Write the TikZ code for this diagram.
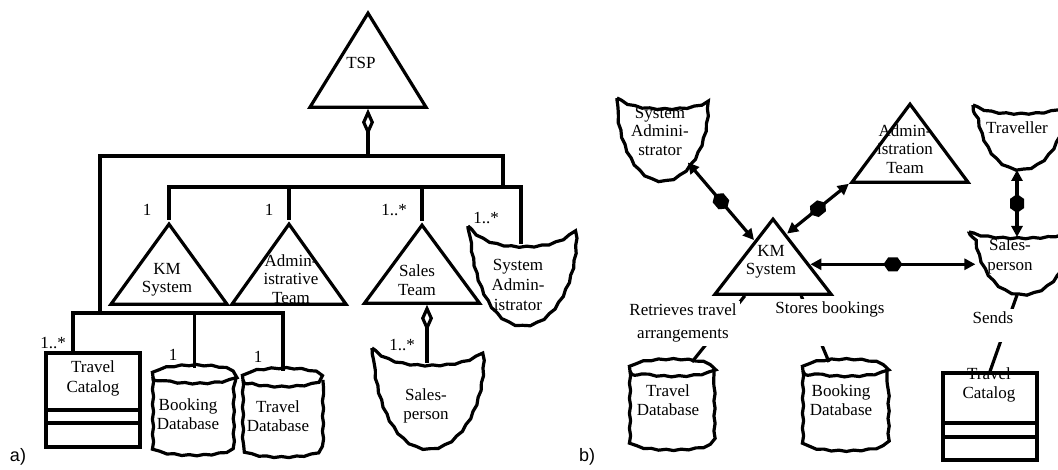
\documentclass[tikz,border=0pt]{standalone}
\usepackage{fontspec}
\setmainfont{Liberation Serif}
\newfontfamily\panelfont{Liberation Sans}
\usetikzlibrary{positioning, arrows.meta, shapes.geometric, shapes.symbols, decorations.pathmorphing, calc}
\tikzset{
  conn/.style={line width=3.2pt},
  aggr/.style={line width=3.2pt, {Diamond[open, length=27pt, width=12pt]}-},
  assoc/.style={line width=3.2pt, {Triangle[length=11pt, width=11pt]}-{Triangle[length=11pt, width=11pt]}},
  blob/.style={signal, signal to=east and west, signal pointer angle=110, fill=black, minimum width=19pt, minimum height=14pt, inner sep=0pt},
  team/.style={isosceles triangle, isosceles triangle stretches, shape border rotate=90, draw, line width=3.2pt, inner sep=0pt, anchor=apex},
  txt/.style={align=center, inner sep=0pt, font=\fontsize{17}{18.5}\selectfont},
  mult/.style={inner sep=0pt, font=\fontsize{17}{18.5}\selectfont},
  role/.style={fill=white, align=center, inner sep=3pt, font=\fontsize{17}{23}\selectfont},
  panel/.style={inner sep=0pt, font=\panelfont\fontsize{18}{20}\selectfont},
  wobbly/.style={line width=3.2pt, decorate, decoration={snake, amplitude=0.6pt, segment length=15pt}},
  classbox/.style={draw, rectangle, line width=3.2pt, minimum width=94pt, inner sep=0pt},
  pics/agent/.style args={#1/#2/#3}{code={
    \draw[wobbly] (0,0) .. controls (0.12*#1,0.8*#3) and (0.3*#1,#3) .. (0.5*#1,#3) coordinate (-top)
      .. controls (0.7*#1,#3) and (0.88*#1,0.8*#3) .. (#1,0)
      .. controls (1.02*#1,0.5*#2) and (0.8*#1,#2) .. (0.5*#1,#2) coordinate[pos=0.65] (-se) coordinate (-bot)
      .. controls (0.2*#1,#2) and (0.02*#1,0.5*#2) .. (0,0) coordinate[pos=0.68] (-w);
  }},
  pics/dbase/.style args={#1/#2}{code={
    \draw[wobbly] (0,0) .. controls (0,-12) and (#1,-12) .. (#1,0) .. controls (#1,12) and (0,12) .. (0,0);
    \draw[wobbly] (0,0) -- (0,#2-9) .. controls (0,#2+3) and (#1,#2+3) .. (#1,#2-9) -- (#1,0);
    \coordinate (-top) at (0.5*#1,-9);
  }}
}
\begin{document}
\begin{tikzpicture}[x=1pt, y=-1pt]
  \useasboundingbox (0,0) rectangle (1058,470);

  % a)
  \node[team, minimum width=116pt, minimum height=94pt] (tsp) at (368,9) {};
  \node[txt] (tsp-l) at (361,63) {TSP};

  \node[team, minimum width=116pt, minimum height=80pt] (km-a) at (169,220) {};
  \node[txt] (km-a-l) at (167,280) {KM\\System};
  \node[team, minimum width=114pt, minimum height=80pt] (adm-a) at (289,220) {};
  \node[txt] (adm-a-l) at (291,279) {Admin-\\istrative\\Team};
  \node[team, minimum width=115pt, minimum height=78pt] (sales-a) at (422,221) {};
  \node[txt] (sales-a-l) at (417,280) {Sales\\Team};
  \pic (sa-a) at (468,226) {agent=106/93/18};
  \node[txt, font=\fontsize{17}{20}\selectfont] (sa-a-l) at (518,285) {System\\Admin-\\istrator};
  \pic (sp-a) at (372,348) {agent=110/93/15};
  \node[txt] (sp-a-l) at (426,406) {Sales-\\person};

  \node[classbox, minimum height=94pt] (cat-a) at (93,400) {};
  \node[txt, font=\fontsize{17}{20}\selectfont] (cat-a-l) at (93,378) {Travel\\Catalog};
  \draw[conn] ([yshift=-10pt]cat-a.west) -- ++(98,0);
  \draw[conn] ([yshift=-23pt]cat-a.west) -- ++(98,0);
  \pic (bdb-a) at (153,377) {dbase=83/75};
  \node[txt] (bdb-a-l) at (188,414) {Booking\\Database};
  \pic (tdb-a) at (243,380) {dbase=80/73};
  \node[txt] (tdb-a-l) at (278,416) {Travel\\Database};

  \coordinate (j1) at (100,156);
  \coordinate (j2) at (503,156);
  \coordinate (j3) at (503,187);
  \coordinate (j4) at (100,313);
  \coordinate (tsp-b) at (tsp.lower side);
  \coordinate (sales-b) at (sales-a.lower side);
  \draw[aggr] (tsp-b) -- (tsp-b |- j1);
  \draw[conn] (j4) -- (j1) -- (j2) -- (j3);
  \draw[conn] (km-a.apex) -- (km-a.apex |- j3) -| (sa-a-top);
  \draw[conn] (adm-a.apex) -- (adm-a.apex |- j3);
  \draw[conn] (sales-a.apex) -- (sales-a.apex |- j3);
  \draw[aggr] (sales-b -| sp-a-top) -- (sp-a-top);
  \draw[conn] ([xshift=-20pt]cat-a.north) -- ([xshift=-20pt]cat-a.north |- j4) -| (tdb-a-top);
  \draw[conn] (bdb-a-top) -- (bdb-a-top |- j4);

  \node[mult] (m-km) at (147,210) {1};
  \node[mult] (m-adm) at (269,210) {1};
  \node[mult] (m-sales) at (394,210) {1..*};
  \node[mult] (m-sa) at (486,218) {1..*};
  \node[mult] (m-cat) at (53,343) {1..*};
  \node[mult] (m-bdb) at (173,355) {1};
  \node[mult] (m-tdb) at (258,357) {1};
  \node[mult] (m-sp) at (402,345) {1..*};
  \node[panel] (lbl-a) at (18,457) {a)};

  % b)
  \node[team, minimum width=116pt, minimum height=75pt] (km-b) at (773,215) {};
  \node[txt] (km-b-l) at (771,262) {KM\\System};
  \node[team, minimum width=116pt, minimum height=78pt] (adm-b) at (910,100) {};
  \node[txt] (adm-b-l) at (905,149) {Admin-\\istration\\Team};
  \pic (sa-b) at (617,98) {agent=91/77/9};
  \node[txt] (sa-b-l) at (660,131) {System\\Admini-\\strator};
  \pic (trav) at (973,105) {agent=88/65/7};
  \node[txt] (trav-l) at (1017,128) {Traveller};
  \pic (sp-b) at (969,232) {agent=96/63/5};
  \node[txt, font=\fontsize{17}{20}\selectfont] (sp-b-l) at (1010,256) {Sales-\\person};

  \pic (tdb-b) at (630,371) {dbase=84/76};
  \node[txt] (tdb-b-l) at (668,400) {Travel\\Database};
  \pic (bdb-b) at (803,371) {dbase=84/77};
  \node[txt] (bdb-b-l) at (841,400) {Booking\\Database};
  \node[classbox, minimum height=87pt] (cat-b) at (990,416.5) {};
  \node[txt] (cat-b-l) at (989,385) {Travel\\Catalog};
  \draw[conn] ([yshift=-6.5pt]cat-b.west) -- ++(97,0);
  \draw[conn] ([yshift=-20.5pt]cat-b.west) -- ++(97,0);

  \coordinate (km-b-e) at ($(km-b.apex)!0.61!(km-b.right corner)$);
  \draw[assoc] (sa-b-se) -- node[blob, sloped] (bl1) {} ($(km-b.apex)!0.31!(km-b.left corner)$);
  \draw[assoc] ($(km-b.apex)!0.23!(km-b.right corner)$) -- node[blob, sloped] (bl2) {} (adm-b.left corner);
  \draw[assoc] (trav-bot) -- node[blob, sloped] (bl3) {} (sp-b-top);
  \draw[assoc] (km-b-e) -- node[blob] (bl4) {} (km-b-e -| sp-b-w);

  \draw[conn] ($(km-b.left corner)!0.27!(km-b.right corner)$) -- ([xshift=20pt]tdb-b-top);
  \node[role, anchor=north] (retr) at (683,301) {Retrieves travel\\arrangements};
  \draw[conn] ($(km-b.left corner)!0.73!(km-b.right corner)$) -- ([xshift=-16pt]bdb-b-top);
  \node[role, anchor=north, text depth=29pt] (store) at (830,299) {Stores bookings};
  \draw[conn] (sp-b-bot) -- (cat-b.north);
  \node[role, anchor=north, text depth=15pt] (sends) at (993,309) {Sends};
  \node[panel] (lbl-b) at (587,457) {b)};
\end{tikzpicture}
\end{document}
